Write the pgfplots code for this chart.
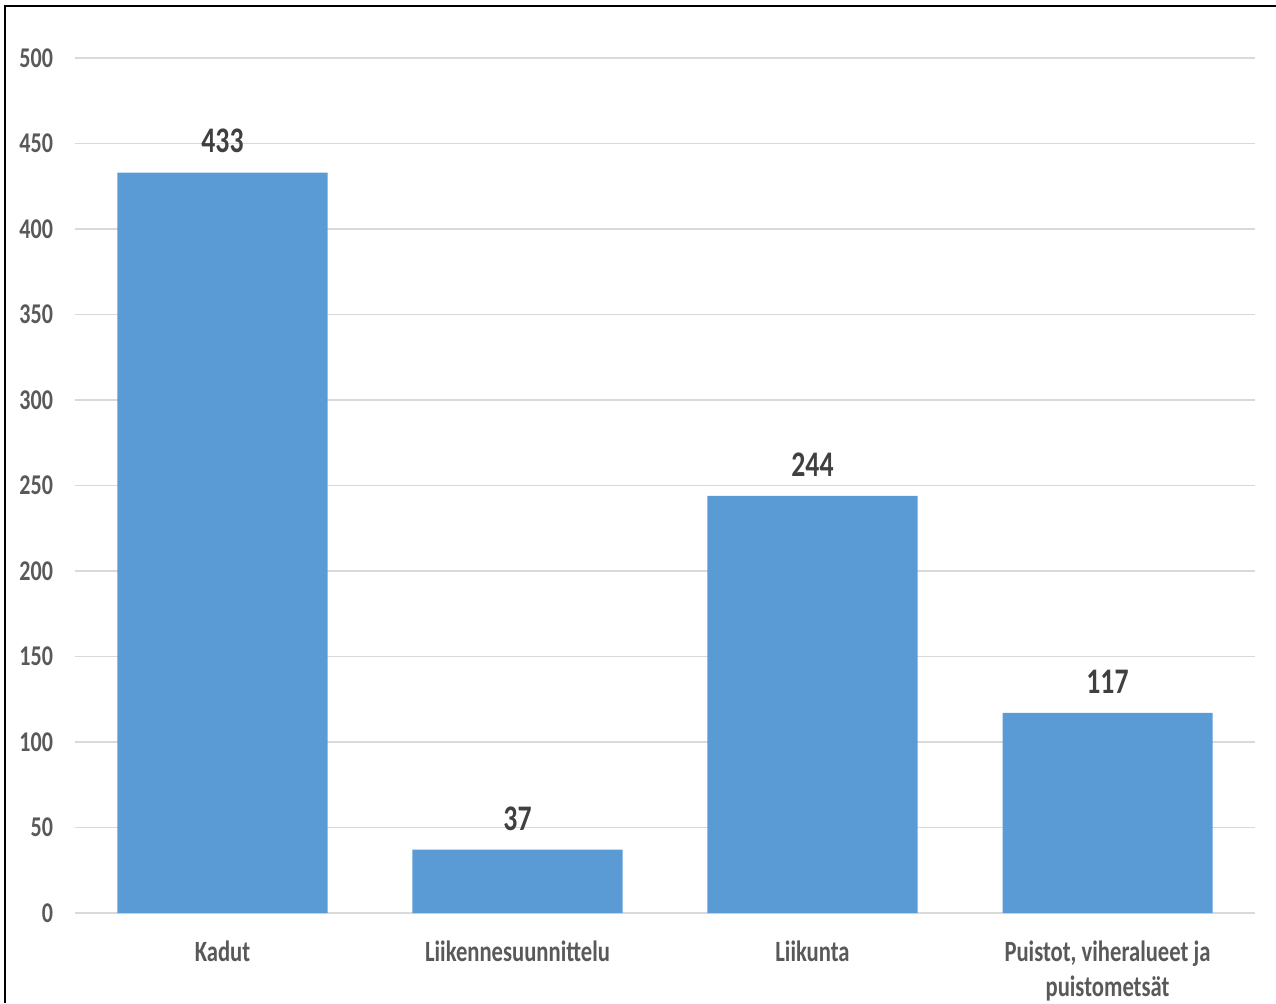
\documentclass[border=0pt]{standalone}
\usepackage{fontspec}
\setmainfont{Carlito}[FakeStretch=0.77]
\usepackage{pgfplots}
\pgfplotsset{compat=1.18}
\definecolor{barblue}{HTML}{5B9BD5}
\definecolor{gridgray}{HTML}{D9D9D9}
\definecolor{ticktext}{HTML}{595959}
\definecolor{labeltext}{HTML}{404040}
\begin{document}
\begin{tikzpicture}
\useasboundingbox (-37.5pt,-45pt) rectangle (600.5pt,456.5pt);
\draw[line width=1pt] (-35pt,-45pt) -- (-35pt,453.25pt) -- (600.5pt,453.25pt);
\begin{axis}[
 at={(0pt,0pt)}, anchor=south west, scale only axis, width=590pt, height=427.5pt,
 xmin=-0.5, xmax=3.5, ymin=0, ymax=500,
 ybar, bar width=105pt,
 axis line style={draw=none},
 ymajorgrids, grid style={gridgray, line width=0.75pt},
 major tick length=0pt,
 ytick={0,50,...,500},
 xtick={0,1,2,3},
 xticklabels={Kadut, Liikennesuunnittelu, Liikunta, {Puistot, viheralueet ja\\puistometsät}},
 xticklabel style={font=\fontsize{14.7}{17.5}\selectfont\bfseries, text=ticktext, align=center, yshift=-10.5pt},
 yticklabel style={font=\fontsize{14.3}{17}\selectfont\bfseries, text=ticktext, xshift=-7.5pt},
 /pgf/number format/assume math mode=true,
 nodes near coords,
 every node near coord/.append style={font=\fontsize{18}{20}\selectfont\bfseries, text=labeltext, yshift=6.2pt},
]
\addplot[fill=barblue, draw=none] coordinates {(0,433) (1,37) (2,244) (3,117)};
\end{axis}
\end{tikzpicture}
\end{document}
